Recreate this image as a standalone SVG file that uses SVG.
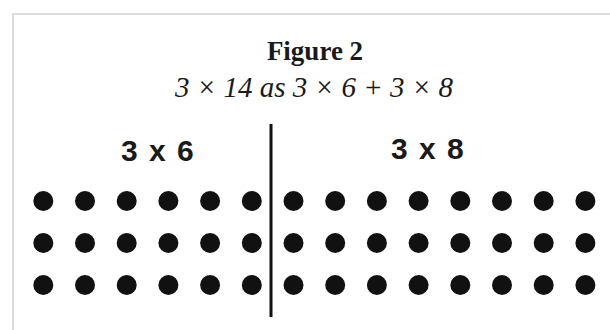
<svg xmlns="http://www.w3.org/2000/svg" width="610" height="330" viewBox="0 0 610 330">
<style>
.frame{fill:none;stroke:#dcdcdc;stroke-width:2}
.title{font-family:"Liberation Serif",serif;font-weight:bold;font-size:27px;fill:#1a1a1a}
.sub{font-family:"Liberation Serif",serif;font-style:italic;font-size:29px;fill:#1a1a1a}
.lab{font-family:"Liberation Sans",Arial,sans-serif;font-weight:bold;font-size:30px;fill:#1a1a1a;letter-spacing:1.5px}
.dot{fill:#111}
.div{stroke:#111;stroke-width:3}
</style>
<defs>
<circle id="d" r="10" class="dot"/>
</defs>
<rect width="610" height="330" fill="#fff"/>
<path class="frame" d="M13,330 V14 H610"/>
<g id="title">
<text class="title" x="315" y="60" text-anchor="middle">Figure 2</text>
<text class="sub" x="314" y="97" text-anchor="middle">3 × 14 as 3 × 6 + 3 × 8</text>
</g>
<g id="label-3x6"><text class="lab" x="158" y="161" text-anchor="middle">3 x 6</text></g>
<g id="label-3x8"><text class="lab" x="428" y="159" text-anchor="middle">3 x 8</text></g>
<g id="connectors"><line class="div" x1="271" y1="124" x2="271" y2="317"/></g>
<g id="dots-3x6">
<use href="#d" x="43.3" y="201"/><use href="#d" x="85" y="201"/><use href="#d" x="126.7" y="201"/><use href="#d" x="168.4" y="201"/><use href="#d" x="210.1" y="201"/><use href="#d" x="251.8" y="201"/>
<use href="#d" x="43.3" y="243"/><use href="#d" x="85" y="243"/><use href="#d" x="126.7" y="243"/><use href="#d" x="168.4" y="243"/><use href="#d" x="210.1" y="243"/><use href="#d" x="251.8" y="243"/>
<use href="#d" x="43.3" y="285"/><use href="#d" x="85" y="285"/><use href="#d" x="126.7" y="285"/><use href="#d" x="168.4" y="285"/><use href="#d" x="210.1" y="285"/><use href="#d" x="251.8" y="285"/>
</g>
<g id="dots-3x8">
<use href="#d" x="293.5" y="201"/><use href="#d" x="335.2" y="201"/><use href="#d" x="376.9" y="201"/><use href="#d" x="418.6" y="201"/><use href="#d" x="460.3" y="201"/><use href="#d" x="502" y="201"/><use href="#d" x="543.7" y="201"/><use href="#d" x="585.4" y="201"/>
<use href="#d" x="293.5" y="243"/><use href="#d" x="335.2" y="243"/><use href="#d" x="376.9" y="243"/><use href="#d" x="418.6" y="243"/><use href="#d" x="460.3" y="243"/><use href="#d" x="502" y="243"/><use href="#d" x="543.7" y="243"/><use href="#d" x="585.4" y="243"/>
<use href="#d" x="293.5" y="285"/><use href="#d" x="335.2" y="285"/><use href="#d" x="376.9" y="285"/><use href="#d" x="418.6" y="285"/><use href="#d" x="460.3" y="285"/><use href="#d" x="502" y="285"/><use href="#d" x="543.7" y="285"/><use href="#d" x="585.4" y="285"/>
</g>
</svg>
